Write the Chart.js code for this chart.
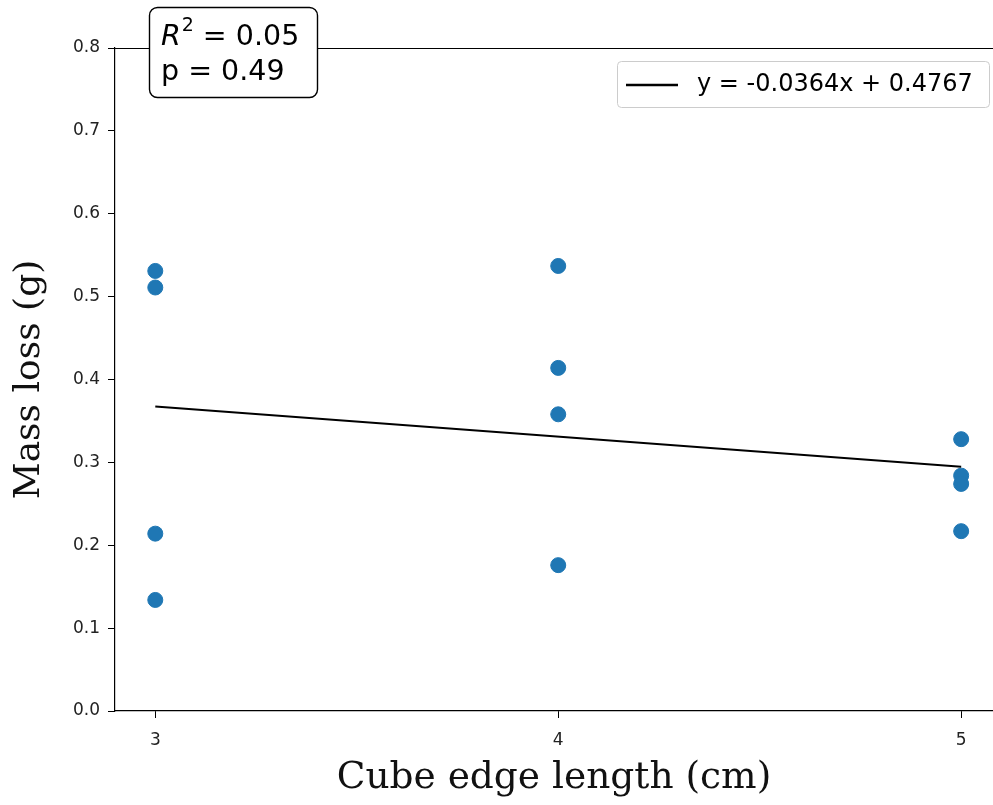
<!DOCTYPE html>
<html>
<head>
<meta charset="utf-8">
<script src="https://cdn.jsdelivr.net/npm/chart.js@4"></script>
<style>
  html, body { margin: 0; padding: 0; background: #fff; }
  #wrap { width: 993px; height: 805px; }
</style>
</head>
<body>
<div id="wrap"><canvas id="massChart" width="993" height="805"></canvas></div>
<script>
// --- data ---
const edgeLength = [3, 3, 3, 3, 4, 4, 4, 4, 5, 5, 5, 5];
const massLoss = [0.531, 0.511, 0.214, 0.134, 0.537, 0.414, 0.358, 0.176, 0.328, 0.284, 0.274, 0.217];
const xTicks = [3, 4, 5];
const yTicks = [0.0, 0.1, 0.2, 0.3, 0.4, 0.5, 0.6, 0.7, 0.8];
const fitSlope = -0.0364;
const fitIntercept = 0.4767;
const fitX = [3, 5];
const rSquared = "0.05";
const pValue = "0.49";

const scatterPoints = edgeLength.map((x, i) => ({ x: x, y: massLoss[i] }));
const fitPoints = fitX.map(x => ({ x: x, y: fitSlope * x + fitIntercept }));
const fitLabel = "y = " + fitSlope.toFixed(4) + "x + " + fitIntercept.toFixed(4);

const sansFont = "'DejaVu Sans', sans-serif";
const serifFont = "'DejaVu Serif', serif";

// top spine, stats box and legend drawn over the chart
const extras = {
  id: "extras",
  afterDraw(chart) {
    const ctx = chart.ctx;
    const a = chart.chartArea;
    ctx.save();
    ctx.strokeStyle = "#000";
    ctx.lineWidth = 1.2;
    ctx.beginPath();
    ctx.moveTo(a.left, a.top + 0.5);
    ctx.lineTo(a.right, a.top + 0.5);
    ctx.stroke();

    // stats box
    ctx.fillStyle = "#fff";
    ctx.lineWidth = 1.4;
    ctx.beginPath();
    ctx.roundRect(149.5, 7.5, 168, 90, 8);
    ctx.fill();
    ctx.stroke();
    ctx.fillStyle = "#000";
    ctx.textBaseline = "alphabetic";
    ctx.textAlign = "left";
    ctx.font = "italic 28.5px " + sansFont;
    ctx.fillText("R", 161, 45);
    const w = ctx.measureText("R").width;
    ctx.font = "19px " + sansFont;
    ctx.fillText("2", 161 + w + 1, 31);
    ctx.font = "28.5px " + sansFont;
    ctx.fillText(" = " + rSquared, 161 + w + 13, 45);
    ctx.fillText("p = " + pValue, 161, 80);

    // legend
    ctx.strokeStyle = "#ccc";
    ctx.lineWidth = 1;
    ctx.fillStyle = "rgba(255,255,255,0.8)";
    ctx.beginPath();
    ctx.roundRect(617.5, 61.5, 372, 46, 4);
    ctx.fill();
    ctx.stroke();
    ctx.strokeStyle = "#000";
    ctx.lineWidth = 2.4;
    ctx.beginPath();
    ctx.moveTo(626, 85);
    ctx.lineTo(678, 85);
    ctx.stroke();
    ctx.fillStyle = "#000";
    ctx.font = "24px " + sansFont;
    ctx.textBaseline = "middle";
    ctx.fillText(fitLabel, 697, 85);
    ctx.restore();
  }
};

new Chart(document.getElementById("massChart"), {
  type: "scatter",
  data: {
    datasets: [
      {
        label: "Mass loss",
        data: scatterPoints,
        backgroundColor: "#1f77b4",
        borderColor: "#1f77b4",
        pointRadius: 7.5,
        pointHoverRadius: 7.5,
        order: 2
      },
      {
        type: "line",
        label: fitLabel,
        data: fitPoints,
        borderColor: "#000",
        borderWidth: 2,
        pointRadius: 0,
        fill: false,
        order: 1
      }
    ]
  },
  options: {
    responsive: false,
    animation: false,
    layout: { autoPadding: false, padding: { top: 48, right: 0, left: 0, bottom: 0 } },
    plugins: {
      legend: { display: false },
      tooltip: { enabled: false }
    },
    scales: {
      x: {
        type: "linear",
        min: 2.9,
        max: 5.079,
        afterBuildTicks(scale) { scale.ticks = xTicks.map(v => ({ value: v })); },
        afterFit(scale) { scale.height = 94; scale.paddingLeft = 0; scale.paddingRight = 0; },
        border: { display: true, color: "#000", width: 1.2 },
        grid: { drawOnChartArea: false, drawTicks: true, tickLength: 7, color: "#000" },
        ticks: { color: "#222", font: { family: sansFont, size: 17 }, padding: 12 },
        title: { display: true, text: "Cube edge length (cm)", color: "#111", font: { family: serifFont, size: 37.5 }, padding: { top: 0 } }
      },
      y: {
        min: 0,
        max: 0.8,
        afterBuildTicks(scale) { scale.ticks = yTicks.map(v => ({ value: v })); },
        afterFit(scale) { scale.width = 115; },
        border: { display: true, color: "#000", width: 1.2 },
        grid: { drawOnChartArea: false, drawTicks: true, tickLength: 7, color: "#000" },
        ticks: { color: "#222", font: { family: sansFont, size: 17 }, padding: 8, callback: v => v.toFixed(1) },
        title: { display: true, text: "Mass loss (g)", color: "#111", font: { family: serifFont, size: 36 }, padding: { top: 8, bottom: 0 } }
      }
    }
  },
  plugins: [extras]
});
</script>
</body>
</html>
